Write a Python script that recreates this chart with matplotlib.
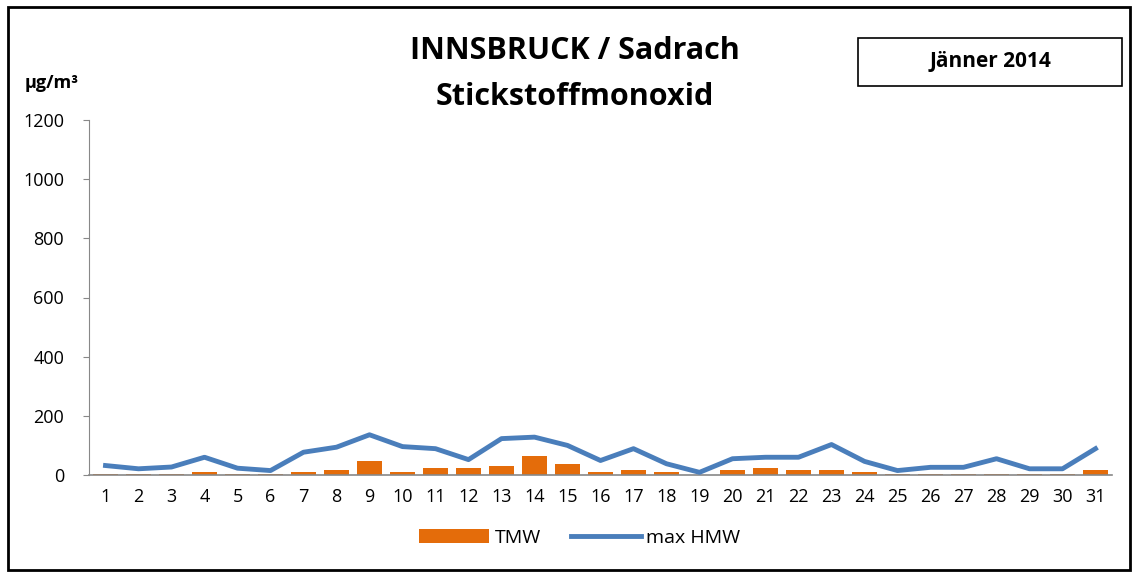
import matplotlib
matplotlib.use("Agg")
import matplotlib.pyplot as plt
from matplotlib.patches import Rectangle

plt.rcParams['font.family'] = ['Open Sans', 'DejaVu Sans']

days = list(range(1, 32))
tmw = [3, 2, 2, 9, 3, 2, 9, 18, 49, 9, 23, 23, 30, 63, 36, 9,
       16, 9, 1, 16, 24, 18, 18, 9, 2, 2, 2, 2, 2, 2, 18]
max_hmw = [32, 21, 27, 60, 23, 15, 77, 94, 136, 96, 89, 52, 123, 128, 100, 49,
           89, 38, 9, 55, 60, 60, 103, 46, 15, 26, 26, 55, 21, 21, 89]
yticks = [0, 200, 400, 600, 800, 1000, 1200]

W, H = 1138, 575
fig = plt.figure(figsize=(W / 100, H / 100), dpi=100)
fig.patches.append(Rectangle((8 / W, 5 / H), 1122 / W, 563 / H, transform=fig.transFigure,
                             fill=False, edgecolor='black', linewidth=2))

ax = fig.add_axes([89 / W, 1 - 475 / H, 1023 / W, 355 / H])
bars = ax.bar(days, tmw, width=0.78, color='#E46C0A', label='TMW', zorder=2)
line, = ax.plot(days, max_hmw, color='#4A7EBB', linewidth=3.5, label='max HMW', zorder=3)

ax.set_xlim(0.5, 31.5)
ax.set_ylim(0, 1200)
ax.set_yticks(yticks)
ax.set_yticklabels([str(v) for v in yticks], fontsize=13)
ax.set_xticks(days)
ax.set_xticklabels([str(d) for d in days], fontsize=13)
ax.tick_params(axis='x', length=0, pad=9)
ax.tick_params(axis='y', length=4, color='#888888', pad=14)
for s in ['top', 'right']:
    ax.spines[s].set_visible(False)
ax.spines['left'].set_color('#888888')
ax.spines['bottom'].set_color('#888888')
ax.spines['bottom'].set_linewidth(1.2)

fig.text(575 / W, 1 - 51 / H, 'INNSBRUCK / Sadrach', ha='center', va='center',
         fontsize=22, fontweight='bold')
fig.text(575 / W, 1 - 97 / H, 'Stickstoffmonoxid', ha='center', va='center',
         fontsize=22, fontweight='bold')
fig.text(25 / W, 1 - 83 / H, 'µg/m³', ha='left', va='center', fontsize=13, fontweight='bold')

fig.patches.append(Rectangle((858 / W, 1 - 86 / H), 264 / W, 48 / H, transform=fig.transFigure,
                             fill=False, edgecolor='black', linewidth=1.2))
fig.text(990 / W, 1 - 62 / H, 'Jänner 2014', ha='center', va='center',
         fontsize=15, fontweight='bold')

fig.legend(handles=[bars, line], labels=['TMW', 'max HMW'], loc='center',
           bbox_to_anchor=(580 / W, 1 - 538 / H), ncol=2, frameon=False,
           fontsize=14, handlelength=3.6, columnspacing=1.5, handletextpad=0.3)

fig.savefig('out.png', dpi=100)
